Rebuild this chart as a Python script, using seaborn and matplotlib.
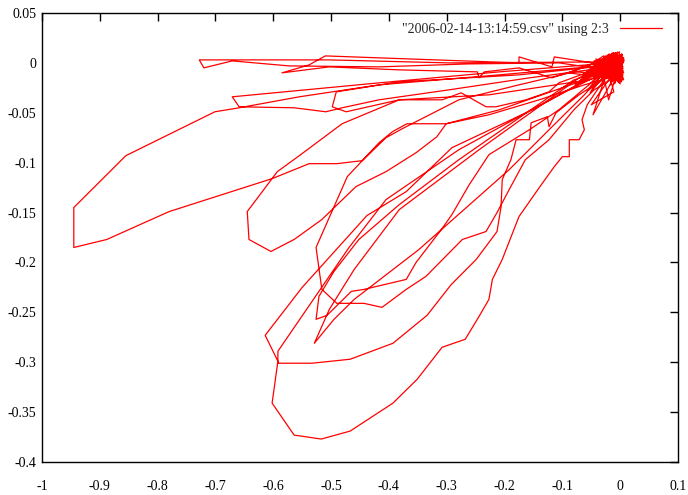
import matplotlib
matplotlib.use("Agg")
import matplotlib.pyplot as plt
import pandas as pd
import seaborn as sns

legend_label = '"2006-02-14-13:14:59.csv" using 2:3'

x_ticks = [-1.0, -0.9, -0.8, -0.7, -0.6, -0.5, -0.4, -0.3, -0.2, -0.1, 0.0, 0.1]
x_tick_labels = ["-1", "-0.9", "-0.8", "-0.7", "-0.6", "-0.5", "-0.4", "-0.3", "-0.2", "-0.1", "0", "0.1"]
y_ticks = [0.05, 0.0, -0.05, -0.1, -0.15, -0.2, -0.25, -0.3, -0.35, -0.4]
y_tick_labels = ["0.05", "0", "-0.05", "-0.1", "-0.15", "-0.2", "-0.25", "-0.3", "-0.35", "-0.4"]

# excursions of the trace (column 2 vs column 3)
lobe1_x = [-0.036, -0.209, -0.417, -0.555, -0.659, -0.701, -0.855, -0.945, -0.945, -0.888, -0.780, -0.602, -0.555, -0.538, -0.490, -0.446, -0.405, -0.377, -0.279, -0.175, -0.080]
lobe1_y = [-0.003, -0.012, -0.022, -0.034, -0.045, -0.049, -0.093, -0.145, -0.185, -0.177, -0.149, -0.116, -0.105, -0.101, -0.101, -0.098, -0.075, -0.066, -0.037, -0.022, -0.009]

lobe2_x = [-0.054, -0.227, -0.382, -0.481, -0.555, -0.593, -0.645, -0.642, -0.604, -0.564, -0.516, -0.457, -0.405, -0.353, -0.317, -0.301, -0.227, -0.140, -0.062]
lobe2_y = [-0.017, -0.032, -0.037, -0.061, -0.093, -0.109, -0.149, -0.177, -0.189, -0.177, -0.157, -0.124, -0.109, -0.090, -0.074, -0.061, -0.052, -0.037, -0.022]

lobe3_x = [-0.071, -0.209, -0.301, -0.369, -0.394, -0.417, -0.472, -0.526, -0.516, -0.490, -0.443, -0.412, -0.370, -0.336, -0.273, -0.232, -0.213, -0.192, -0.164, -0.123, -0.080, -0.045]
lobe3_y = [-0.019, -0.047, -0.061, -0.061, -0.069, -0.080, -0.114, -0.185, -0.227, -0.241, -0.241, -0.245, -0.227, -0.214, -0.177, -0.169, -0.150, -0.127, -0.097, -0.077, -0.047, -0.027]

lobe4_x = [-0.036, -0.088, -0.152, -0.291, -0.370, -0.438, -0.550, -0.614, -0.592, -0.602, -0.564, -0.517, -0.467, -0.393, -0.351, -0.308, -0.268, -0.244, -0.227, -0.221, -0.204, -0.175, -0.140, -0.114, -0.100, -0.088, -0.088, -0.071, -0.062, -0.066, -0.057, -0.028]
lobe4_y = [-0.012, -0.027, -0.047, -0.085, -0.129, -0.153, -0.225, -0.273, -0.299, -0.341, -0.373, -0.377, -0.369, -0.341, -0.317, -0.285, -0.277, -0.254, -0.237, -0.217, -0.197, -0.154, -0.125, -0.104, -0.094, -0.094, -0.077, -0.077, -0.067, -0.057, -0.042, -0.017]

lobe5_x = [-0.028, -0.106, -0.279, -0.405, -0.469, -0.592, -0.592, -0.533, -0.467, -0.393, -0.334, -0.292, -0.249, -0.213, -0.206, -0.204, -0.189, -0.180, -0.157, -0.154, -0.126, -0.123, -0.111, -0.071]
lobe5_y = [-0.007, -0.032, -0.087, -0.137, -0.185, -0.289, -0.301, -0.301, -0.297, -0.281, -0.253, -0.222, -0.197, -0.169, -0.144, -0.117, -0.097, -0.077, -0.077, -0.060, -0.054, -0.064, -0.050, -0.032]

lobe6_x = [-0.036, -0.080, -0.279, -0.382, -0.452, -0.495, -0.521, -0.526, -0.507, -0.465, -0.443, -0.370, -0.353, -0.308, -0.291, -0.261, -0.227, -0.157, -0.106, -0.054]
lobe6_y = [-0.009, -0.017, -0.097, -0.142, -0.177, -0.209, -0.234, -0.257, -0.253, -0.229, -0.227, -0.217, -0.200, -0.166, -0.152, -0.122, -0.092, -0.067, -0.047, -0.022]

lobe7_x = [-0.045, -0.071, -0.244, -0.382, -0.460, -0.503, -0.529, -0.495, -0.460, -0.348, -0.270, -0.192, -0.123, -0.062]
lobe7_y = [-0.007, -0.015, -0.087, -0.147, -0.207, -0.247, -0.281, -0.257, -0.237, -0.187, -0.147, -0.107, -0.067, -0.032]

lobe8_x = [-0.036, -0.209, -0.417, -0.671, -0.659, -0.564, -0.509, -0.481, -0.417, -0.296, -0.157, -0.054]
lobe8_y = [-0.001, -0.009, -0.020, -0.034, -0.044, -0.045, -0.049, -0.045, -0.037, -0.027, -0.015, -0.007]

lobe9_x = [-0.028, -0.175, -0.382, -0.491, -0.498, -0.474, -0.382, -0.308, -0.275, -0.232, -0.215, -0.163, -0.123, -0.106, -0.054]
lobe9_y = [-0.003, -0.012, -0.019, -0.029, -0.044, -0.049, -0.037, -0.037, -0.030, -0.044, -0.044, -0.037, -0.029, -0.020, -0.009]

lobe10_x = [-0.019, -0.296, -0.503, -0.642, -0.728, -0.720, -0.671, -0.573, -0.417, -0.261, -0.106]
lobe10_y = [0.001, 0.000, 0.003, 0.003, 0.003, -0.005, 0.002, -0.003, -0.004, -0.001, 0.000]

lobe11_x = [-0.036, -0.114, -0.118, -0.175, -0.175, -0.510, -0.538, -0.585, -0.503, -0.382, -0.247, -0.244, -0.235, -0.175, -0.118, -0.054]
lobe11_y = [-0.001, 0.006, -0.004, 0.006, 0.000, 0.007, -0.002, -0.010, -0.004, -0.007, -0.009, -0.015, -0.009, -0.005, -0.015, -0.003]

# jitter near the origin between the excursions (hand read, 12 points per gap)
cluster_x = [-0.004, -0.018, 0.003, -0.027, -0.009, 0.005, -0.040, -0.013, -0.002, -0.015, 0.003, -0.006,
             0.001, -0.022, -0.006, 0.007, -0.033, -0.011, -0.052, -0.002, -0.024, 0.000, -0.011, -0.048,
             -0.016, 0.004, -0.025, -0.008, -0.042, 0.002, -0.019, -0.065, 0.005, -0.019, -0.004, -0.030,
             -0.010, 0.006, -0.030, -0.003, -0.014, -0.047, 0.000, -0.021, -0.009, 0.002, -0.016, -0.058,
             -0.007, -0.036, 0.005, -0.012, -0.078, -0.024, 0.002, -0.005, -0.001, -0.026, 0.004, -0.013,
             -0.029, -0.015, 0.006, -0.039, -0.008, -0.057, -0.001, -0.017, -0.037, -0.005, 0.006, -0.021,
             0.003, -0.026, -0.010, -0.044, 0.004, -0.020, -0.034, -0.006, 0.001, -0.012, -0.032, -0.003,
             -0.013, 0.002, -0.031, -0.004, -0.090, -0.023, 0.005, -0.009, -0.017, 0.005, -0.046, -0.008,
             -0.038, -0.016, 0.001, -0.027, -0.011, -0.050, 0.004, -0.019, -0.022, 0.002, -0.014, -0.070,
             -0.006, -0.035, 0.003, -0.014, -0.042, -0.002, -0.024, -0.068, -0.006, 0.004, -0.018, -0.028,
             -0.008, 0.006, -0.028, -0.012, -0.045, 0.001, -0.017, -0.031, -0.001, -0.010, 0.006, -0.035,
             -0.003, -0.021, 0.004, -0.010, -0.036, -0.005, 0.002, -0.013, -0.015, 0.000, -0.025, -0.007]
cluster_y = [0.004, -0.006, 0.009, -0.012, 0.006, -0.004, -0.016, 0.002, -0.015, 0.009, -0.018, 0.006,
             -0.009, 0.007, -0.014, 0.003, -0.002, 0.010, -0.030, 0.005, -0.008, -0.021, 0.010, -0.006,
             -0.011, 0.008, -0.003, -0.020, 0.004, -0.007, 0.009, -0.012, -0.012, 0.004, 0.011, -0.019,
             0.006, -0.010, 0.002, -0.018, 0.008, -0.052, -0.004, 0.007, 0.008, -0.016, 0.005, -0.010,
             -0.013, 0.003, -0.006, 0.009, -0.022, -0.001, -0.015, 0.005, -0.020, 0.007, -0.009, 0.010,
             0.007, -0.012, 0.001, -0.008, 0.010, -0.028, -0.005, 0.004, -0.014, 0.003, -0.017, 0.006,
             -0.010, 0.006, -0.018, -0.003, 0.008, -0.037, 0.002, -0.014, -0.013, 0.009, -0.005, 0.007,
             0.009, -0.007, 0.004, -0.016, -0.010, 0.005, -0.008, 0.002, -0.022, 0.004, -0.011, 0.010,
             -0.004, 0.008, -0.013, 0.006, -0.029, -0.042, 0.003, -0.009, -0.007, -0.019, 0.006, -0.018,
             0.007, -0.002, -0.017, 0.009, -0.006, 0.004, -0.011, -0.020, 0.009, -0.014, 0.002, -0.008,
             -0.008, 0.005, -0.003, -0.015, 0.002, 0.008, -0.009, -0.001, 0.011, -0.021, 0.005, -0.003,
             0.006, -0.012, 0.003, -0.006, -0.004, 0.008, -0.010, 0.001, 0.008, -0.016, 0.004, -0.010]

lobes = [(lobe10_x, lobe10_y), (lobe1_x, lobe1_y), (lobe8_x, lobe8_y),
         (lobe2_x, lobe2_y), (lobe11_x, lobe11_y), (lobe3_x, lobe3_y),
         (lobe9_x, lobe9_y), (lobe4_x, lobe4_y), (lobe6_x, lobe6_y),
         (lobe5_x, lobe5_y), (lobe7_x, lobe7_y)]

xs, ys = [], []
chunk = 12
for i, (lx, ly) in enumerate(lobes):
    xs += cluster_x[i * chunk:(i + 1) * chunk]
    ys += cluster_y[i * chunk:(i + 1) * chunk]
    xs += lx
    ys += ly
xs += cluster_x[len(lobes) * chunk:]
ys += cluster_y[len(lobes) * chunk:]

df = pd.DataFrame({"col2": xs, "col3": ys, "order": range(len(xs))})

sns.set_style("white")
plt.rcParams["font.family"] = ["Liberation Serif", "DejaVu Serif"]
plt.rcParams["axes.unicode_minus"] = False

fig = plt.figure(figsize=(6.88, 4.95), dpi=100)
ax = fig.add_axes([42 / 688, 33 / 495, 636 / 688, 449 / 495])

sns.lineplot(data=df, x="col2", y="col3", sort=False, estimator=None,
             color="#ff0000", linewidth=0.9, label=legend_label, ax=ax)

ax.set_xlim(-1.0, 0.1)
ax.set_ylim(-0.4, 0.05)
ax.set_xticks(x_ticks)
ax.set_xticklabels(x_tick_labels)
ax.set_yticks(y_ticks)
ax.set_yticklabels(y_tick_labels)
ax.set_xlabel("")
ax.set_ylabel("")
ax.tick_params(direction="in", top=True, right=True, length=6, width=1,
               color="black", labelsize=10, labelcolor="black")
ax.tick_params(axis="x", pad=13)
ax.tick_params(axis="y", pad=4)
for s in ax.spines.values():
    s.set_visible(True)
    s.set_color("black")
    s.set_linewidth(1)

leg = ax.legend(loc="upper right", frameon=False, markerfirst=False,
                fontsize=10, handlelength=3.0, handletextpad=0.8,
                bbox_to_anchor=(0.99, 1.0), borderaxespad=0.3)

fig.savefig("out.png", dpi=100, facecolor="white")
